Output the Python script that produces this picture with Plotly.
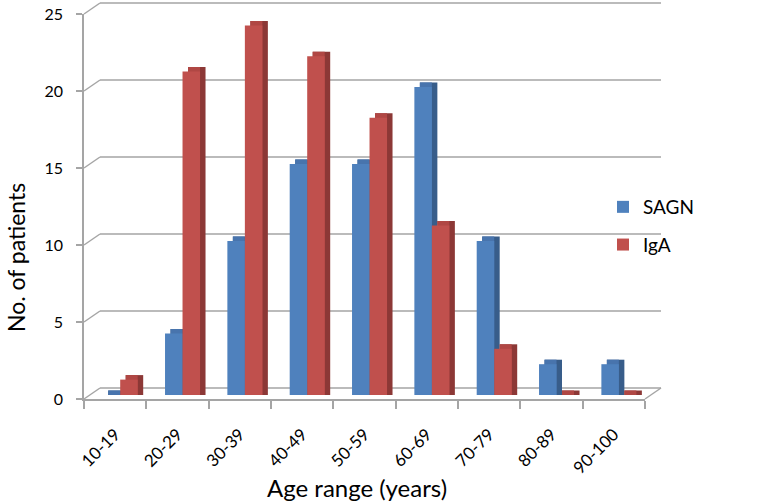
import plotly.graph_objects as go

categories = ["10-19", "20-29", "30-39", "40-49", "50-59", "60-69", "70-79", "80-89", "90-100"]
sagn = [0, 4, 10, 15, 15, 20, 10, 2, 2]
iga = [1, 21, 24, 22, 18, 11, 3, 0, 0]
y_ticks = [0, 5, 10, 15, 20, 25]

W, H = 783, 502
ML, MR, MT, MB = 84, 138, 14, 103
PW, PH = W - ML - MR, H - MT - MB
YMAX = 25
px_x = PW / len(categories)
px_y = PH / YMAX

BASE = 4 / px_y          # bars stand in the middle of the floor depth
DEPTH_X = 5.5 / px_x     # 3-D side depth (x units)
DEPTH_Y = 4.5 / px_y     # 3-D top depth (y units)
BAR_W = 17.5 / px_x

series = [
    ("SAGN", sagn, -0.20, "#4f81bd", "#4874ad", "#385d8a"),
    ("IgA", iga, -0.20 + BAR_W, "#c0504d", "#b04744", "#8c3836"),
]

x = list(range(len(categories)))
fig = go.Figure()
for name, vals, off, front, top, side in series:
    fig.add_trace(go.Bar(x=x, y=[v + DEPTH_Y for v in vals], base=BASE, offset=off + DEPTH_X,
                         width=BAR_W, marker=dict(color=side, line=dict(width=0)),
                         showlegend=False, hoverinfo="skip"))
    fig.add_trace(go.Bar(x=x, y=[v + DEPTH_Y for v in vals], base=BASE, offset=off + DEPTH_X,
                         width=BAR_W - DEPTH_X, marker=dict(color=top, line=dict(width=0)),
                         showlegend=False, hoverinfo="skip"))
    fig.add_trace(go.Bar(x=x, y=vals, base=BASE, offset=off, width=BAR_W, name=name,
                         legendgroup=name,
                         marker=dict(color=front, line=dict(width=0))))

# back wall gridlines with perspective offset
GRID = "#a5a5a5"
dxp = 16 / PW
dyp = 11 / PH
shapes = []
for v in y_ticks:
    yp = v / YMAX
    shapes.append(dict(type="line", xref="paper", yref="paper", x0=0, y0=yp, x1=dxp, y1=yp + dyp,
                       line=dict(color=GRID, width=1.5), layer="below"))
    shapes.append(dict(type="line", xref="paper", yref="paper", x0=dxp, y0=yp + dyp, x1=1 + dxp, y1=yp + dyp,
                       line=dict(color=GRID, width=1.5), layer="below"))
shapes.append(dict(type="line", xref="paper", yref="paper", x0=1, y0=0, x1=1 + dxp, y1=dyp,
                   line=dict(color=GRID, width=1.5), layer="below"))

FONT = "Lato, Carlito, 'Open Sans', sans-serif"
fig.update_layout(
    width=W, height=H,
    margin=dict(l=ML, r=MR, t=MT, b=MB, autoexpand=False),
    paper_bgcolor="white", plot_bgcolor="rgba(0,0,0,0)",
    barmode="overlay",
    font=dict(family=FONT, color="black"),
    shapes=shapes,
    xaxis=dict(range=[-0.5, len(categories) - 0.5], tickvals=x, ticktext=categories,
               tickangle=-45, ticks="", showgrid=False, zeroline=False,
               showline=True, linecolor=GRID, linewidth=1.5,
               tickfont=dict(size=17), ticklabelstandoff=17,
               minor=dict(tick0=-0.5, dtick=1, ticks="outside", ticklen=8,
                          tickcolor=GRID, tickwidth=1.5, showgrid=False),
               fixedrange=True),
    yaxis=dict(range=[0, YMAX], tickvals=y_ticks, showgrid=False, zeroline=False,
               showline=True, linecolor=GRID, linewidth=1.5,
               ticks="outside", ticklen=6, tickcolor=GRID, tickwidth=1.5,
               tickfont=dict(size=16), ticklabelstandoff=10, fixedrange=True),
    legend=dict(x=(603 - ML) / PW, y=(399 - 226) / PH, xanchor="left", yanchor="middle",
                font=dict(size=19), traceorder="grouped", tracegroupgap=10,
                bgcolor="rgba(0,0,0,0)"),
    annotations=[
        dict(text="Age range (years)", xref="paper", yref="paper",
             x=(357 - ML) / PW, y=(399 - 487) / PH, xanchor="center", yanchor="middle",
             showarrow=False, font=dict(size=24)),
        dict(text="No. of patients", xref="paper", yref="paper",
             x=(16 - ML) / PW, y=(399 - 258) / PH, xanchor="center", yanchor="middle",
             textangle=-90, showarrow=False, font=dict(size=23)),
    ],
)

fig.write_html("out.html", config={"displayModeBar": False},
               post_script="document.body.style.margin='0';document.body.style.overflow='hidden';")
